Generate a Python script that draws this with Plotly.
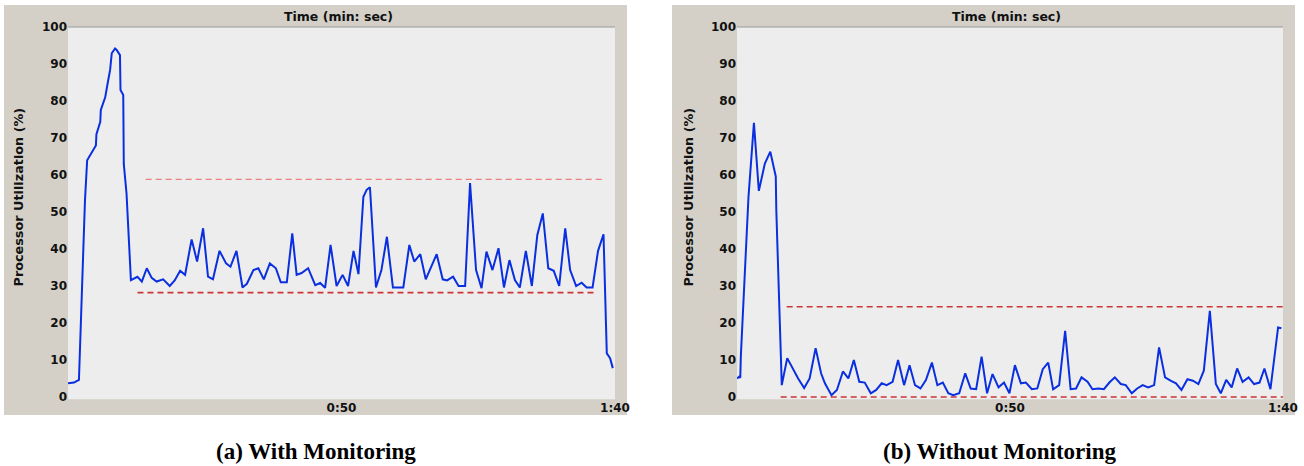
import plotly.graph_objects as go

# ---------------- data ----------------
left_t = [0, 1.1, 2.0, 3.1, 3.5, 4.5, 5.1, 5.2, 5.9, 6.0, 6.8, 7.3, 7.7, 8.0, 8.6, 8.9, 9.5, 9.6, 10.1, 10.2,
          10.7, 11.5, 12.2, 12.7, 13.5, 14.4, 15.3, 16.2, 17.4, 18.6, 19.5, 20.5, 21.4, 22.6, 23.6, 24.7, 25.6,
          26.5, 27.7, 28.9, 29.7, 30.8, 31.9, 32.7, 33.9, 34.8, 35.8, 36.9, 38.0, 38.9, 40.0, 41.0, 41.8, 42.7,
          43.9, 45.2, 46.1, 47.0, 48.0, 49.1, 50.2, 51.2, 52.2, 53.1, 54.0, 54.6, 55.2, 56.3, 57.3, 58.3, 59.4,
          61.3, 62.4, 63.3, 64.4, 65.4, 67.4, 68.5, 69.3, 70.4, 71.4, 72.6, 73.5, 74.6, 75.6, 76.5, 77.6, 78.7,
          79.7, 80.7, 81.7, 82.6, 83.7, 84.8, 85.8, 86.8, 87.8, 88.8, 89.8, 90.9, 91.8, 92.9, 93.9, 94.8, 95.9,
          96.9, 97.9, 98.5, 99.1, 99.6]
left_v = [3.7, 3.9, 4.6, 53, 64, 66.3, 68, 71, 74.4, 77.6, 81, 85.2, 88.4, 92.9, 94.2, 93.8, 92.4, 83, 81.6, 63,
          55, 31.6, 32.2, 32.5, 31.2, 34.8, 32.2, 31.2, 31.8, 30, 31.5, 34.1, 33, 42.6, 36.6, 45.6, 32.5,
          31.8, 39.5, 36.1, 35.2, 39.5, 29.6, 30.6, 34.3, 34.8, 31.8, 36.1, 34.8, 31, 31, 44.2, 33, 33.5,
          34.8, 30.2, 30.8, 29.5, 41.1, 30, 33, 30, 39.5, 33.2, 54.1, 56.0, 56.7, 29.6, 34.3, 43.3, 29.6,
          29.6, 41.1, 36.6, 38.6, 31.8, 38.6, 31.8, 31.5, 32.5, 30, 30, 57.8, 34.3, 29.4, 39.3, 34.3, 40.2,
          29.6, 37, 31.6, 29.6, 39.5, 30, 43.8, 49.6, 34.8, 34.1, 30, 45.6, 34.3, 30, 30.9, 29.6, 29.6,
          39.5, 44, 11.8, 10.5, 7.8]

right_t = [0, 0.4, 0.6, 0.7, 2.1, 3.1, 4.0, 5.1, 6.1, 7.1, 7.2, 8.2, 9.2, 10.3, 11.2, 12.3, 13.3, 14.4, 15.4,
           16.1, 17.3, 18.3, 19.4, 20.4, 21.4, 22.4, 23.4, 24.5, 25.5, 26.5, 27.4, 28.5, 29.5, 30.6, 31.6,
           32.6, 33.6, 34.6, 35.7, 36.7, 37.7, 38.7, 39.6, 40.7, 41.8, 42.8, 43.8, 44.8, 45.8, 46.8, 47.9,
           48.9, 49.9, 50.9, 52.0, 52.9, 54.0, 55.0, 56.0, 57.0, 57.9, 59.0, 60.1, 61.1, 62.1, 63.1, 64.2,
           65.1, 66.2, 67.2, 68.2, 69.2, 70.3, 71.2, 72.3, 73.3, 74.3, 75.3, 76.4, 77.3, 78.4, 79.4, 80.4,
           81.4, 82.5, 83.5, 84.5, 85.5, 86.6, 87.7, 88.6, 89.6, 90.6, 91.6, 92.6, 93.7, 94.7, 95.7, 96.6,
           97.7, 99.1, 99.7]
right_v = [5.0, 5.5, 5.2, 10.9, 54, 74.1, 55.7, 63.1, 66.3, 59.6, 50.5, 3.2, 10.5, 7.3, 5, 2.4, 5, 13.2, 6.4,
           3.7, 0.5, 1.9, 6.9, 5, 10, 4.1, 3.9, 1, 1.9, 3.7, 3.2, 4.1, 10, 3.2, 8.6, 3.2, 2.3, 4.6, 9.3, 3.2,
           3.9, 1, 0.5, 1, 6.4, 2.3, 2.1, 10.9, 1, 6.2, 2.6, 3.9, 1, 8.6, 3.7, 3.9, 2.1, 2.3, 7.5, 9.3, 2.1,
           3.2, 17.9, 2.1, 2.3, 5.3, 4.1, 2.1, 2.3, 2.1, 3.9, 5.3, 3.5, 3.2, 1, 2.3, 3.2, 2.6, 3.2, 13.4,
           5.3, 4.4, 3.7, 1.9, 4.8, 4.4, 3.5, 7.1, 23.3, 3.5, 1, 4.6, 2.6, 7.7, 4.1, 5.3, 3.5, 3.9, 7.7,
           2.1, 18.8, 18.6]

# threshold (dashed) lines: value, start time, end time
left_hi_v, left_hi_t = 58.8, [14.2, 98.2]
left_lo_v, left_lo_t = 28.2, [12.7, 96.5]
right_hi_v, right_hi_t = 24.4, [9.1, 100]
right_lo_v, right_lo_t = 0.0, [8.0, 100]

x_tickvals = [50, 100]
x_ticktext = ["0:50", "1:40"]
y_tickvals = [0, 10, 20, 30, 40, 50, 60, 70, 80, 90, 100]
captions = ["(a) With Monitoring", "(b) Without Monitoring"]
x_title = "Time (min: sec)"
y_title = "Processor Utilization (%)"

# ---------------- figure ----------------
W, H = 1304, 466
BLUE = "#0a2fe0"
PANEL = "#d4d0c8"
PLOTBG = "#ededed"
FONT = "DejaVu Sans"

def px(x):
    return x / W

def py(y):
    return (H - y) / H

fig = go.Figure()

def add_panel(t, v, hi_v, hi_t, lo_v, lo_t, xa, ya, hi_color, hi_width):
    fig.add_trace(go.Scatter(x=hi_t, y=[hi_v] * len(hi_t), mode="lines", xaxis=xa, yaxis=ya,
                             line=dict(color=hi_color, width=hi_width, dash="6px,4px"), hoverinfo="skip"))
    fig.add_trace(go.Scatter(x=lo_t, y=[lo_v] * len(lo_t), mode="lines", xaxis=xa, yaxis=ya,
                             line=dict(color="#cc3535", width=1.6, dash="6px,4px"), hoverinfo="skip"))
    fig.add_trace(go.Scatter(x=t, y=v, mode="lines", xaxis=xa, yaxis=ya,
                             line=dict(color=BLUE, width=2)))

add_panel(left_t, left_v, left_hi_v, left_hi_t, left_lo_v, left_lo_t, "x", "y", "#ec7f7f", 1.2)
add_panel(right_t, right_v, right_hi_v, right_hi_t, right_lo_v, right_lo_t, "x2", "y2", "#cc3535", 1.6)

ydom = [py(399.2), py(27)]
yrange = [-0.6, 100]
tickfont = dict(family=FONT, size=12, color="#111111", weight="bold")

axis_x = dict(range=[0, 100], tickvals=x_tickvals, ticktext=x_ticktext, showgrid=False, automargin=False,
              zeroline=False, showline=False, ticks="", tickfont=tickfont)
axis_y = dict(range=yrange, tickvals=y_tickvals, showgrid=False, zeroline=False, showline=False,
              automargin=False, ticks="", tickfont=tickfont, domain=ydom)

fig.update_layout(
    width=W, height=H, margin=dict(l=0, r=0, t=0, b=0, pad=0, autoexpand=False),
    paper_bgcolor="white", plot_bgcolor="rgba(0,0,0,0)", showlegend=False,
    xaxis=dict(axis_x, domain=[px(68), px(615)], anchor="y"),
    yaxis=dict(axis_y, anchor="x"),
    xaxis2=dict(axis_x, domain=[px(737), px(1283)], anchor="y2"),
    yaxis2=dict(axis_y, anchor="x2"),
)

shapes = []
for (x0, x1), (xr, yr) in [((4, 627), ("x", "y")), ((672, 1295), ("x2", "y2"))]:
    shapes.append(dict(type="rect", xref="paper", yref="paper", x0=px(x0), x1=px(x1), y0=py(415), y1=py(5),
                       fillcolor=PANEL, line=dict(width=0), layer="below"))
    shapes.append(dict(type="rect", xref=xr + " domain", yref=yr + " domain", x0=0, x1=1, y0=0, y1=1,
                       fillcolor=PLOTBG, line=dict(width=0), layer="below"))
    shapes.append(dict(type="line", xref=xr + " domain", yref=yr + " domain", x0=0, x1=1, y0=1, y1=1,
                       line=dict(color="#9a9a9a", width=1), layer="below"))
fig.update_layout(shapes=shapes)

ann = []
for cx, ycx in [(338, 17.5), (1006, 687.5)]:
    ann.append(dict(text=x_title, x=px(cx), y=py(17), xref="paper", yref="paper", showarrow=False,
                    xanchor="center", yanchor="middle",
                    font=dict(family=FONT, size=12.5, color="#111111", weight="bold")))
    ann.append(dict(text=y_title, x=px(ycx), y=py(197), xref="paper", yref="paper", showarrow=False,
                    textangle=-90, xanchor="center", yanchor="middle",
                    font=dict(family=FONT, size=12.8, color="#111111", weight="bold")))
for cap, capx in zip(captions, [316, 1000]):
    ann.append(dict(text=cap, x=px(capx), y=py(451), xref="paper", yref="paper", showarrow=False,
                    xanchor="center", yanchor="middle",
                    font=dict(family="Liberation Serif", size=23, color="black", weight="bold")))
fig.update_layout(annotations=ann)

# drop the browser's default 8px page margin so the 1304x466 figure fills the window
fig.write_html("out.html", config={"displayModeBar": False},
               post_script="document.body.style.margin='0';document.body.style.overflow='hidden';")
